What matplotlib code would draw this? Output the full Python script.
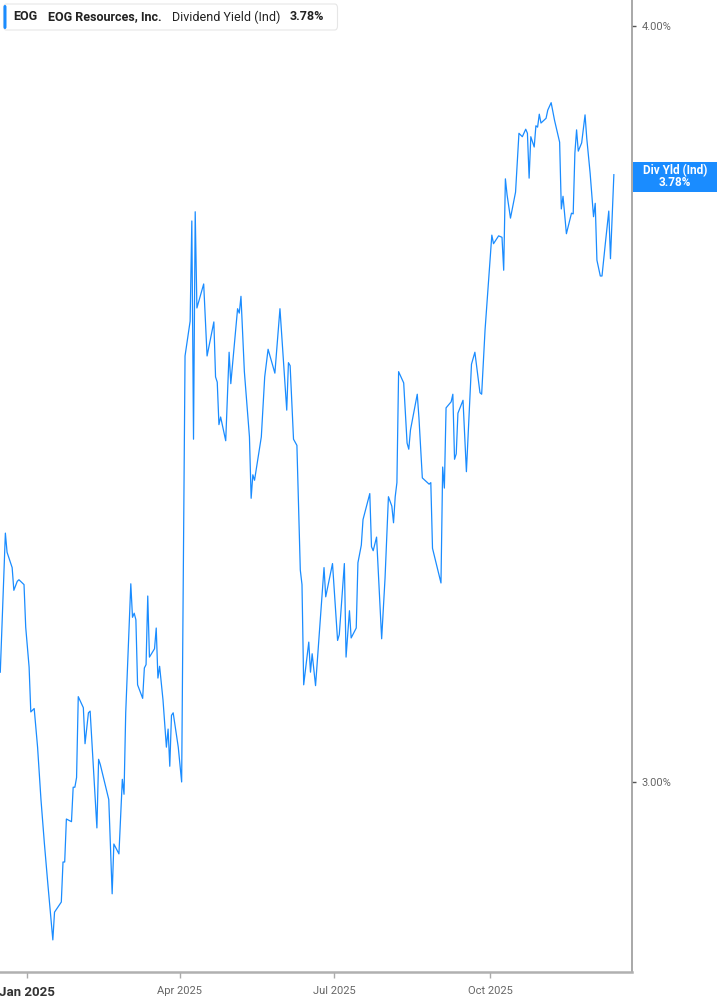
import numpy as np
import pandas as pd
import matplotlib
matplotlib.use('Agg')
import matplotlib.pyplot as plt
from matplotlib.patches import FancyBboxPatch, Rectangle

plt.rcParams['font.family'] = ['Roboto', 'DejaVu Sans']

# ----- data: days since 2025-01-01, dividend yield in % -----
days = [-16, -13, -12, -9, -8, -6, -5, -2, -1, 1, 2, 4, 6, 8, 10, 12, 15, 16, 20, 21,
        22, 23, 26, 27, 28, 29, 30, 33, 34, 36, 37, 41, 42, 43, 48, 50, 51, 54, 56, 57,
        58, 61, 62, 63, 64, 65, 68, 69, 70, 71, 72, 75, 76, 77, 78, 80, 82, 83, 84, 85,
        86, 89, 91, 93, 96, 97, 98, 99, 100, 104, 106, 110, 111, 112, 113, 114, 117, 119, 120, 124,
        125, 126, 128, 131, 132, 133, 134, 138, 140, 142, 146, 149, 153, 154, 155, 157, 159, 161, 162, 163,
        166, 167, 168, 170, 175, 176, 180, 183, 184, 187, 188, 190, 191, 194, 195, 197, 198, 202, 203, 204,
        206, 209, 211, 213, 215, 216, 217, 218, 219, 222, 224, 225, 226, 230, 231, 233, 237, 238, 239, 244,
        245, 246, 247, 250, 251, 252, 253, 254, 257, 259, 262, 264, 267, 268, 270, 272, 274, 275, 278, 280,
        281, 282, 283, 285, 288, 290, 292, 294, 295, 296, 297, 299, 300, 301, 302, 303, 306, 307, 309, 311,
        314, 315, 316, 318, 321, 322, 323, 324, 325, 327, 329, 330, 332, 334, 335, 336, 338, 339, 341, 343,
        344, 346]
yield_pct = [3.128, 3.298, 3.274, 3.255, 3.227, 3.238, 3.240, 3.234, 3.182, 3.134, 3.081, 3.085, 3.040, 2.980, 2.931, 2.887, 2.825, 2.855, 2.866, 2.910,
             2.910, 2.958, 2.955, 2.994, 2.994, 3.005, 3.099, 3.086, 3.044, 3.080, 3.082, 2.948, 3.026, 3.020, 2.980, 2.875, 2.930, 2.919, 3.003, 2.986,
             3.080, 3.235, 3.194, 3.199, 3.191, 3.113, 3.097, 3.133, 3.137, 3.220, 3.146, 3.156, 3.181, 3.121, 3.135, 3.095, 3.040, 3.061, 3.018, 3.077,
             3.080, 3.040, 3.000, 3.528, 3.575, 3.714, 3.418, 3.727, 3.593, 3.626, 3.528, 3.574, 3.500, 3.493, 3.437, 3.447, 3.416, 3.533, 3.491, 3.592,
             3.586, 3.609, 3.507, 3.421, 3.342, 3.372, 3.365, 3.421, 3.500, 3.537, 3.505, 3.592, 3.456, 3.519, 3.515, 3.418, 3.410, 3.252, 3.234, 3.113,
             3.164, 3.128, 3.150, 3.112, 3.255, 3.219, 3.260, 3.166, 3.173, 3.260, 3.146, 3.202, 3.169, 3.181, 3.261, 3.283, 3.315, 3.348, 3.281, 3.276,
             3.293, 3.168, 3.242, 3.344, 3.332, 3.311, 3.344, 3.362, 3.507, 3.492, 3.413, 3.405, 3.430, 3.477, 3.446, 3.368, 3.360, 3.362, 3.279, 3.236,
             3.382, 3.355, 3.459, 3.467, 3.477, 3.392, 3.399, 3.452, 3.469, 3.376, 3.517, 3.533, 3.479, 3.477, 3.563, 3.629, 3.694, 3.682, 3.693, 3.691,
             3.645, 3.774, 3.751, 3.718, 3.755, 3.840, 3.835, 3.846, 3.840, 3.775, 3.835, 3.820, 3.851, 3.849, 3.868, 3.855, 3.862, 3.874, 3.885, 3.859,
             3.827, 3.731, 3.749, 3.696, 3.725, 3.724, 3.811, 3.845, 3.814, 3.826, 3.867, 3.833, 3.782, 3.720, 3.739, 3.659, 3.637, 3.637, 3.683, 3.728,
             3.661, 3.780]

tick_dates = ['2025-01-01', '2025-04-01', '2025-07-01', '2025-10-01']
tick_labels = ['Jan 2025', 'Apr 2025', 'Jul 2025', 'Oct 2025']
y_ticks = [3.0, 4.0]
y_tick_labels = ['3.00%', '4.00%']

ticker = 'EOG'
company = 'EOG Resources, Inc.'
metric = 'Dividend Yield (Ind)'
last_label = '3.78%'

BLUE = '#1a8cff'
W, H = 717, 1005

base = pd.Timestamp('2025-01-01')
dates = base + pd.to_timedelta(days, unit='D')

fig = plt.figure(figsize=(W / 100, H / 100), dpi=100)
ax = fig.add_axes([0, 33 / H, 632 / W, 972 / H])

ax.plot(dates, yield_pct, color=BLUE, linewidth=0.9)

ax.set_yscale('log')
ax.set_ylim(2.7907, 4.0398)
ax.set_xlim(base - pd.Timedelta(days=16.17), base + pd.Timedelta(days=356.7))

# right y axis
ax.yaxis.tick_right()
ax.set_yticks(y_ticks)
ax.set_yticklabels(y_tick_labels)
ax.yaxis.set_minor_locator(matplotlib.ticker.NullLocator())
ax.tick_params(axis='y', which='major', length=3, width=1, color='#555555',
               labelcolor='#666666', labelsize=8, pad=4)

# x axis
ax.set_xticks(pd.to_datetime(tick_dates))
ax.set_xticklabels(tick_labels)
ax.tick_params(axis='x', length=4, width=1, color='#aaaaaa',
               labelcolor='#666666', labelsize=8, pad=6)
first = ax.get_xticklabels()[0]
first.set_fontweight('bold')
first.set_color('#333333')
first.set_fontsize(9.5)

for side in ['left', 'top']:
    ax.spines[side].set_visible(False)
ax.spines['right'].set_color('#999999')
ax.spines['right'].set_linewidth(1.2)
ax.spines['bottom'].set_color('#b0b0b0')
ax.spines['bottom'].set_linewidth(1.8)

# legend box top-left
leg = FancyBboxPatch((3.5 / W, 1 - 30 / H), 334 / W, 26 / H,
                     boxstyle='round,pad=0,rounding_size=0.004',
                     transform=fig.transFigure, facecolor='white',
                     edgecolor='#e6e6e6', linewidth=0.8, zorder=5)
fig.patches.append(leg)
bar = FancyBboxPatch((3.5 / W, 1 - 29 / H), 3 / W, 24 / H,
                     boxstyle='round,pad=0,rounding_size=0.002',
                     transform=fig.transFigure, facecolor=BLUE,
                     edgecolor='none', zorder=6)
fig.patches.append(bar)
ty = 1 - 17 / H
fig.text(13 / W, ty, ticker, fontsize=9, fontweight='bold', color='#222222', va='center', zorder=7)
fig.text(48 / W, ty, company, fontsize=9, fontweight='bold', color='#222222', va='center', zorder=7)
fig.text(172 / W, ty, metric, fontsize=9, color='#222222', va='center', zorder=7)
fig.text(290 / W, ty, last_label, fontsize=9, fontweight='bold', color='#222222', va='center', zorder=7)

# last value tag on the right axis
yc = ax.transData.transform((ax.get_xlim()[0], yield_pct[-1]))[1]
yc_f = yc / H - 2 / H
box = Rectangle((633 / W, yc_f - 15 / H), 84 / W, 30 / H, transform=fig.transFigure,
                facecolor=BLUE, edgecolor='none', zorder=5)
fig.patches.append(box)
fig.text(675 / W, yc_f + 6 / H, 'Div Yld (Ind)', fontsize=8.5, fontweight='bold',
         color='white', ha='center', va='center', zorder=7)
fig.text(675 / W, yc_f - 6 / H, last_label, fontsize=8.5, fontweight='bold',
         color='white', ha='center', va='center', zorder=7)

fig.savefig('out.png', dpi=100)
plt.close(fig)
